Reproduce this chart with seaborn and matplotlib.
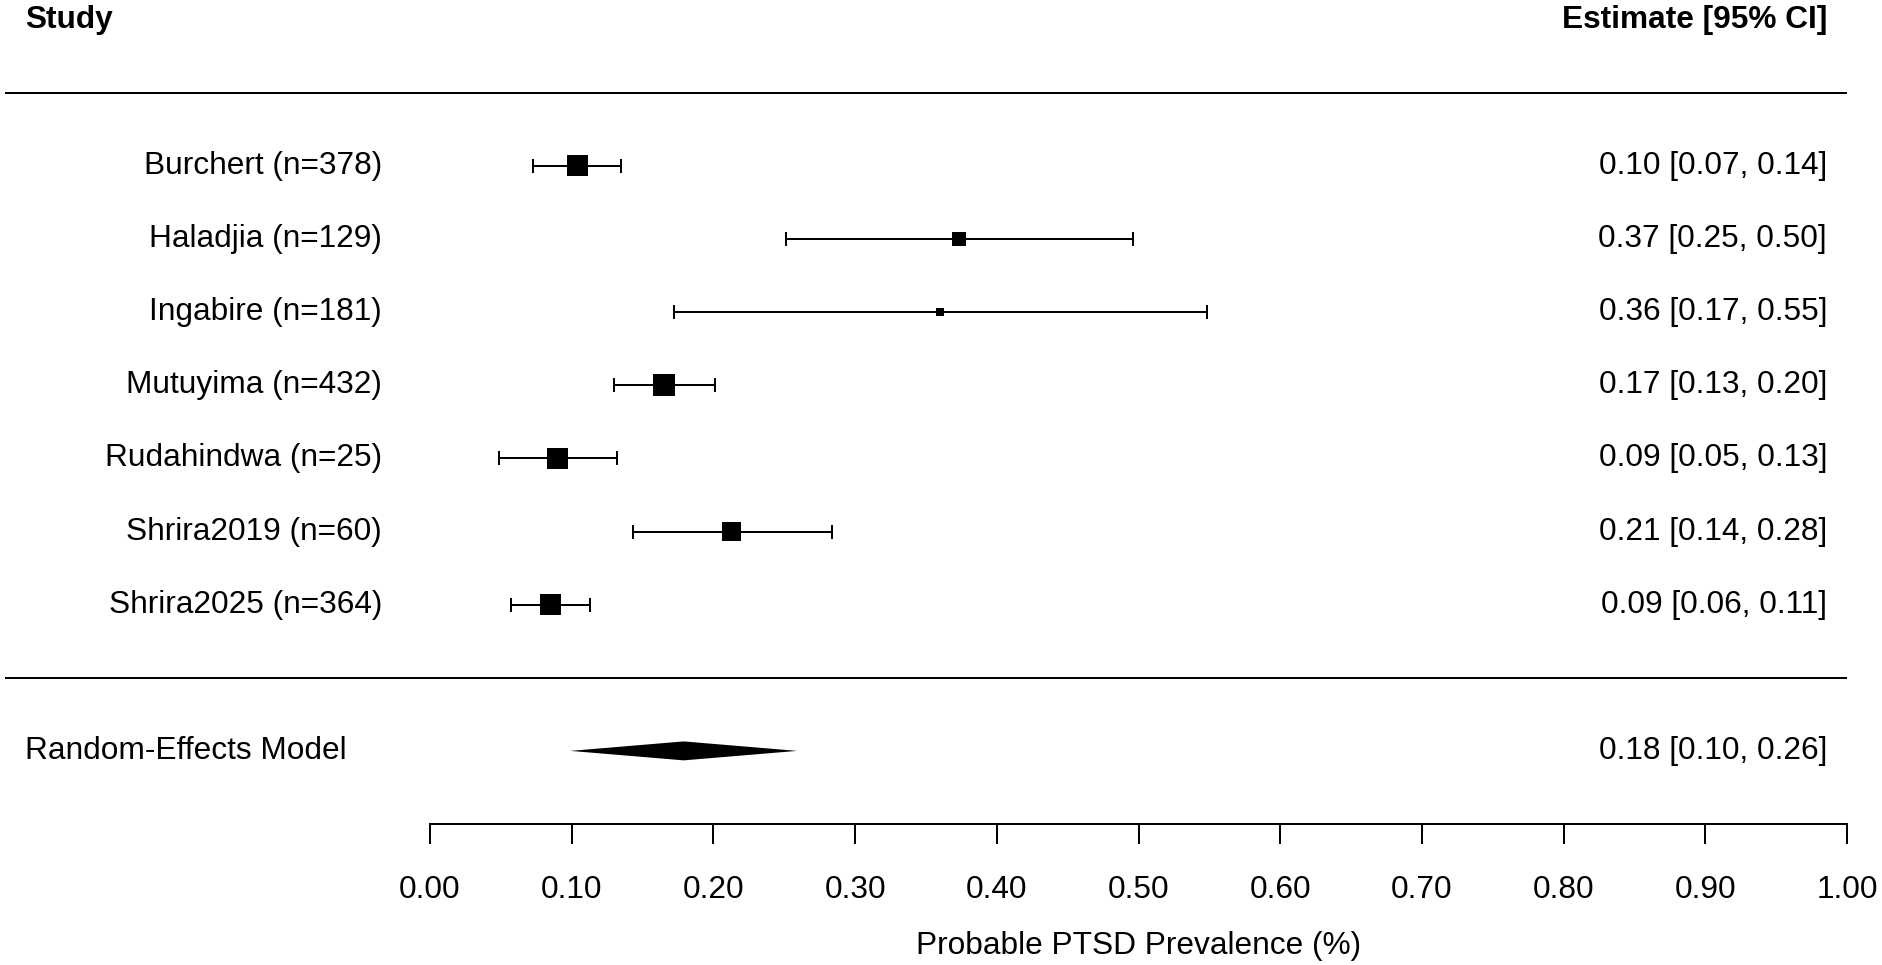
import numpy as np
import pandas as pd
import matplotlib
matplotlib.use("Agg")
import matplotlib.pyplot as plt
import seaborn as sns

# study level results (proportions)
studies = ["Burchert (n=378)", "Haladjia (n=129)", "Ingabire (n=181)",
           "Mutuyima (n=432)", "Rudahindwa (n=25)", "Shrira2019 (n=60)",
           "Shrira2025 (n=364)"]
estimate = [0.104, 0.373, 0.360, 0.165, 0.090, 0.213, 0.085]
ci_lower = [0.073, 0.251, 0.172, 0.130, 0.049, 0.143, 0.057]
ci_upper = [0.135, 0.496, 0.548, 0.201, 0.132, 0.284, 0.113]
weights = [16.5, 11.0, 6.3, 17.0, 16.5, 15.0, 16.5]
est_labels = ["0.10 [0.07, 0.14]", "0.37 [0.25, 0.50]", "0.36 [0.17, 0.55]",
              "0.17 [0.13, 0.20]", "0.09 [0.05, 0.13]", "0.21 [0.14, 0.28]",
              "0.09 [0.06, 0.11]"]

# pooled random-effects model
re_label = "Random-Effects Model"
re_est, re_lower, re_upper = 0.179, 0.099, 0.259
re_text = "0.18 [0.10, 0.26]"

xticks = [0.0, 0.1, 0.2, 0.3, 0.4, 0.5, 0.6, 0.7, 0.8, 0.9, 1.0]
xlabel = "Probable PTSD Prevalence (%)"

sns.set_style("white")
plt.rcParams["font.family"] = ["Liberation Sans", "DejaVu Sans"]
plt.rcParams["text.color"] = "black"
plt.rcParams["axes.labelcolor"] = "black"
plt.rcParams["xtick.color"] = "black"
FS = 22.8
PX = 72 / 100  # points per pixel

df = pd.DataFrame({"study": studies, "est": estimate, "lo": ci_lower,
                   "hi": ci_upper, "w": weights})
df["row"] = np.arange(1, len(df) + 1)
re_row = len(df) + 2

fig = plt.figure(figsize=(18.83, 9.65), dpi=100)
ax = fig.add_axes([0, 0.1461, 1, 0.8539])
XMIN, XMAX = -0.3035, 1.0254
ax.set_xlim(XMIN, XMAX)
ax.set_ylim(10, -1.269)

# confidence intervals
ax.errorbar(df["est"], df["row"], xerr=[df["est"] - df["lo"], df["hi"] - df["est"]],
            fmt="none", ecolor="black", elinewidth=2 * PX, capsize=7 * PX,
            capthick=2 * PX, zorder=2)

# squares sized by weight
side = df["w"] * 1.27 * PX
sns.scatterplot(data=df, x="est", y="row", marker="s", color="black",
                s=side ** 2, linewidth=0, ax=ax, zorder=3, legend=False)

# pooled diamond
h = 9.5 / 73.3
ax.fill([re_lower, re_est, re_upper, re_est],
        [re_row, re_row - h, re_row, re_row + h], color="black", lw=0)

# separators
ax.hlines([0, len(df) + 1], -0.300, 1.0, color="black", lw=2 * PX)

# text columns
x_lab = (382 - 430) / 1417
x_left = (25 - 430) / 1417
x_right = (1827 - 430) / 1417
for r, s, t in zip(df["row"], df["study"], est_labels):
    ax.text(x_lab, r, s, ha="right", va="center", fontsize=FS)
    ax.text(x_right, r, t, ha="right", va="center", fontsize=FS)
ax.text(x_left, re_row, re_label, ha="left", va="center", fontsize=FS)
ax.text(x_right, re_row, re_text, ha="right", va="center", fontsize=FS)
ax.text(x_left, -1, "Study", ha="left", va="center", fontsize=FS, fontweight="bold")
ax.text(x_right, -1, "Estimate [95% CI]", ha="right", va="center", fontsize=FS,
        fontweight="bold")

# x axis
for sp in ["top", "left", "right"]:
    ax.spines[sp].set_visible(False)
ax.spines["bottom"].set_bounds(0, 1)
ax.spines["bottom"].set_linewidth(2 * PX)
ax.spines["bottom"].set_color("black")
ax.set_yticks([])
ax.set_xticks(xticks)
ax.set_xticklabels([f"{v:.2f}" for v in xticks])
ax.tick_params(axis="x", direction="out", length=20 * PX, width=2 * PX,
               labelsize=FS, pad=31 * PX, colors="black", bottom=True)
ax.set_xlabel(xlabel, fontsize=FS, labelpad=26 * PX)
# centre the label under the middle of the scale
ax.xaxis.label.set_x((0.5 - XMIN) / (XMAX - XMIN))
ax.set_ylabel("")

fig.savefig("out.png", dpi=100)
